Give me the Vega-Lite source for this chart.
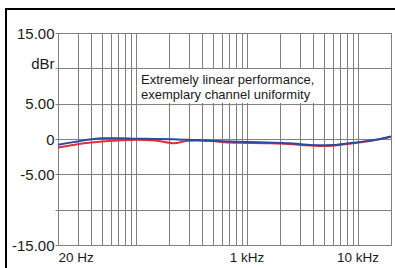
{
  "$schema": "https://vega.github.io/schema/vega-lite/v6.json",
  "width": 333,
  "height": 212,
  "autosize": "none",
  "padding": {"left": 58, "top": 33, "right": 4, "bottom": 23},
  "background": "white",
  "config": {
    "view": {"stroke": "#808080", "strokeWidth": 1},
    "font": "Liberation Sans",
    "axis": {"gridColor": "#808080", "gridOpacity": 1, "gridWidth": 1, "domain": false, "labelColor": "#1a1a1a", "labelFont": "Liberation Sans", "title": null}
  },
  "data": {
    "values": [
      {"freq": 20, "db": -1.2, "ch": "R"},
      {"freq": 25, "db": -0.95, "ch": "R"},
      {"freq": 30, "db": -0.75, "ch": "R"},
      {"freq": 40, "db": -0.5, "ch": "R"},
      {"freq": 50, "db": -0.35, "ch": "R"},
      {"freq": 70, "db": -0.2, "ch": "R"},
      {"freq": 100, "db": -0.1, "ch": "R"},
      {"freq": 150, "db": -0.2, "ch": "R"},
      {"freq": 220, "db": -0.6, "ch": "R"},
      {"freq": 300, "db": -0.25, "ch": "R"},
      {"freq": 400, "db": -0.2, "ch": "R"},
      {"freq": 700, "db": -0.5, "ch": "R"},
      {"freq": 1000, "db": -0.55, "ch": "R"},
      {"freq": 1500, "db": -0.6, "ch": "R"},
      {"freq": 2400, "db": -0.7, "ch": "R"},
      {"freq": 3500, "db": -0.9, "ch": "R"},
      {"freq": 4500, "db": -1.0, "ch": "R"},
      {"freq": 6000, "db": -0.95, "ch": "R"},
      {"freq": 8000, "db": -0.7, "ch": "R"},
      {"freq": 12000, "db": -0.35, "ch": "R"},
      {"freq": 16000, "db": -0.02, "ch": "R"},
      {"freq": 20000, "db": 0.3, "ch": "R"},
      {"freq": 20, "db": -0.8, "ch": "L"},
      {"freq": 25, "db": -0.55, "ch": "L"},
      {"freq": 30, "db": -0.35, "ch": "L"},
      {"freq": 40, "db": -0.05, "ch": "L"},
      {"freq": 50, "db": 0.1, "ch": "L"},
      {"freq": 70, "db": 0.12, "ch": "L"},
      {"freq": 100, "db": 0.05, "ch": "L"},
      {"freq": 150, "db": 0.0, "ch": "L"},
      {"freq": 220, "db": -0.05, "ch": "L"},
      {"freq": 300, "db": -0.1, "ch": "L"},
      {"freq": 400, "db": -0.2, "ch": "L"},
      {"freq": 700, "db": -0.35, "ch": "L"},
      {"freq": 1000, "db": -0.42, "ch": "L"},
      {"freq": 1500, "db": -0.5, "ch": "L"},
      {"freq": 2400, "db": -0.6, "ch": "L"},
      {"freq": 3500, "db": -0.8, "ch": "L"},
      {"freq": 4500, "db": -0.9, "ch": "L"},
      {"freq": 6000, "db": -0.85, "ch": "L"},
      {"freq": 8000, "db": -0.65, "ch": "L"},
      {"freq": 12000, "db": -0.3, "ch": "L"},
      {"freq": 16000, "db": 0.0, "ch": "L"},
      {"freq": 20000, "db": 0.35, "ch": "L"}
    ]
  },
  "encoding": {
    "x": {
      "field": "freq", "type": "quantitative",
      "scale": {"type": "log", "domain": [20, 20000], "nice": false},
      "axis": {
        "values": [20, 30, 40, 50, 60, 70, 80, 90, 100, 200, 300, 400, 500, 600, 700, 800, 900, 1000, 2000, 3000, 4000, 5000, 6000, 7000, 8000, 9000, 10000, 20000],
        "labelExpr": "datum.value == 20 ? '20 Hz' : datum.value == 1000 ? '1 kHz' : datum.value == 10000 ? '10 kHz' : ''",
        "labelAlign": {"condition": {"test": "datum.value == 20", "value": "left"}, "value": "center"},
        "labelBaseline": "middle",
        "labelFontSize": 13.5,
        "labelPadding": 12,
        "labelOverlap": false,
        "labelFlush": false,
        "ticks": false,
        "grid": true
      }
    },
    "y": {
      "field": "db", "type": "quantitative",
      "scale": {"domain": [-15, 15], "nice": false},
      "axis": {
        "values": [-15, -10, -5, 0, 5, 10, 15],
        "labelExpr": "datum.value == 15 ? '15.00' : datum.value == 10 ? 'dBr' : datum.value == 5 ? '5.00' : datum.value == 0 ? '0' : datum.value == -5 ? '-5.00' : datum.value == -15 ? '-15.00' : ''",
        "labelBaseline": {"condition": {"test": "datum.value == 10", "value": "alphabetic"}, "value": "middle"},
        "labelFontSize": 15,
        "labelPadding": 1,
        "labelOverlap": false,
        "labelFlush": false,
        "ticks": true,
        "tickSize": 3,
        "tickColor": "#808080",
        "grid": true
      }
    }
  },
  "layer": [
    {
      "transform": [{"filter": "datum.freq == 20 && datum.ch == 'L'"}],
      "mark": {"type": "rect", "fill": "white", "stroke": null},
      "encoding": {
        "x": {"datum": 104},
        "x2": {"datum": 4450},
        "y": {"datum": 9.92},
        "y2": {"datum": 5.08}
      }
    },
    {
      "transform": [{"filter": "datum.freq == 20 && datum.ch == 'L'"}],
      "mark": {"type": "text", "align": "left", "baseline": "alphabetic", "fontSize": 13, "lineHeight": 15.5, "color": "#1a1a1a", "font": "Liberation Sans",
        "text": ["Extremely linear performance,", "exemplary channel uniformity"]},
      "encoding": {
        "x": {"datum": 112},
        "y": {"datum": 7.8}
      }
    },
    {
      "mark": {"type": "line", "interpolate": "monotone", "strokeWidth": 2},
      "encoding": {
        "color": {"field": "ch", "type": "nominal", "scale": {"domain": ["R", "L"], "range": ["#e0303c", "#2a4a9c"]}, "legend": null}
      }
    },
    {
      "transform": [{"filter": "datum.freq == 20 && datum.ch == 'L'"}],
      "mark": {"type": "rect", "fill": null, "stroke": "black", "strokeWidth": 2, "clip": false},
      "encoding": {
        "x": {"datum": 6.8},
        "x2": {"datum": 60000},
        "y": {"datum": 18.4},
        "y2": {"datum": -25}
      }
    }
  ]
}
